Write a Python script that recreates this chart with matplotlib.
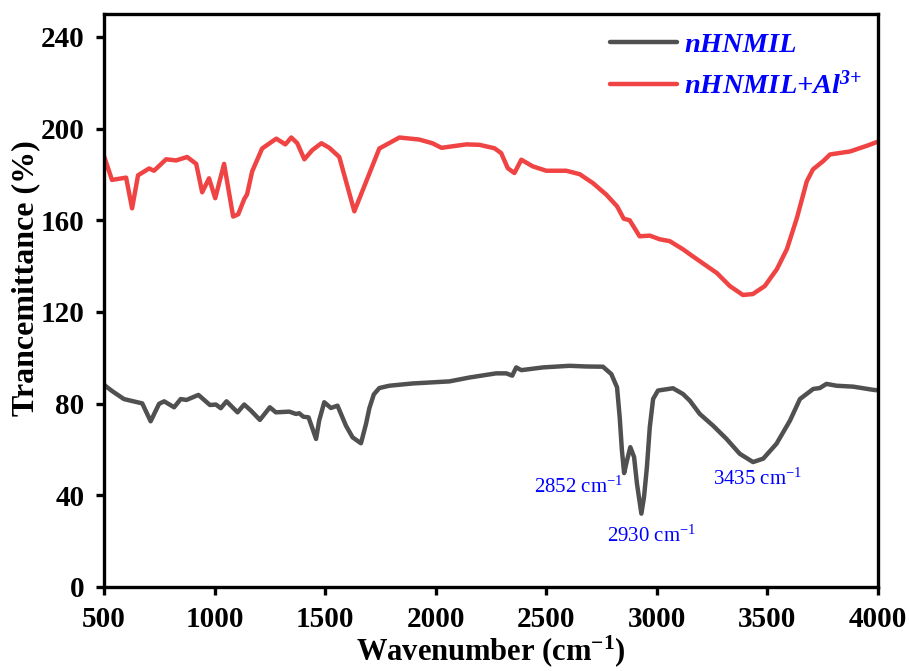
import matplotlib
matplotlib.use("Agg")
import matplotlib.pyplot as plt

# -----------------------------
# FTIR spectra
# -----------------------------
black_w = [500, 505, 538, 590, 620, 673, 711, 749, 772, 817, 847, 873, 927, 979,
           1006, 1028, 1054, 1104, 1134, 1164, 1205, 1250, 1277, 1338, 1368, 1383,
           1401, 1425, 1459, 1473, 1496, 1526, 1556, 1594, 1624, 1662, 1685, 1700,
           1720, 1745, 1790, 1896, 2062, 2153, 2273, 2319, 2346, 2364, 2387, 2485,
           2605, 2681, 2756, 2794, 2820, 2832, 2842, 2852, 2865, 2880, 2897, 2910,
           2930, 2942, 2955, 2968, 2983, 3005, 3073, 3118, 3149, 3194, 3254, 3315,
           3375, 3435, 3481, 3541, 3602, 3647, 3677, 3707, 3737, 3767, 3813, 3888,
           3979, 4000]
black_T = [88.5, 87.8, 85.4, 82.0, 81.3, 80.1, 72.3, 79.9, 81.0, 78.4, 82.0, 81.6,
           83.8, 79.4, 79.6, 78.0, 81.0, 76.2, 79.6, 77.0, 72.9, 78.4, 76.2, 76.5,
           75.5, 75.8, 74.3, 74.0, 64.6, 72.6, 80.6, 78.1, 79.1, 70.4, 65.3, 62.7,
           71.2, 78.0, 84.0, 86.8, 87.8, 88.8, 89.7, 91.4, 93.2, 93.2, 92.2, 95.8,
           94.6, 95.8, 96.5, 96.2, 96.1, 92.9, 87.1, 74.0, 59.6, 49.7, 55.2, 61.0,
           56.7, 45.1, 32.0, 39.3, 52.3, 69.7, 82.0, 85.7, 86.7, 84.2, 81.3, 75.5,
           70.4, 64.6, 58.1, 54.5, 56.0, 62.5, 72.6, 82.0, 84.2, 86.4, 86.8, 88.6,
           87.8, 87.4, 86.0, 85.8]

red_w = [500, 505, 536, 600, 627, 654, 704, 726, 781, 826, 876, 917, 944, 975,
         1003, 1043, 1084, 1107, 1134, 1147, 1170, 1215, 1279, 1320, 1347, 1374,
         1406, 1442, 1483, 1519, 1564, 1632, 1686, 1745, 1836, 1926, 1985, 2026,
         2139, 2198, 2266, 2296, 2326, 2356, 2387, 2439, 2500, 2590, 2651, 2711,
         2771, 2820, 2850, 2877, 2922, 2968, 3013, 3058, 3117, 3162, 3226, 3271,
         3330, 3389, 3434, 3488, 3543, 3588, 3633, 3678, 3706, 3751, 3783, 3873,
         3950, 4000]
red_T = [188.0, 186.6, 177.6, 178.6, 165.2, 179.6, 182.6, 181.6, 186.6, 186.1,
         187.6, 184.6, 172.2, 178.3, 169.6, 184.6, 161.6, 162.6, 169.2, 171.3,
         181.3, 191.3, 195.6, 193.1, 196.1, 193.6, 186.6, 190.6, 193.6, 191.6,
         187.6, 163.9, 177.0, 191.3, 196.1, 195.2, 193.6, 191.6, 193.1, 192.9,
         191.4, 189.3, 182.7, 180.6, 186.4, 183.5, 181.6, 181.6, 180.1, 176.2,
         171.2, 166.1, 160.7, 160.0, 153.0, 153.3, 151.7, 150.9, 147.4, 144.3,
         140.0, 137.0, 131.3, 127.4, 127.8, 131.3, 138.7, 147.4, 160.9, 177.0,
         182.2, 185.7, 188.7, 190.0, 192.5, 194.3]

series_labels = ["nHNMIL", "nHNMIL+Al$^{3{+}}$"]

# peak labels: (text, x, y)
peak_labels = [("2852 cm$^{-1}$", 2645, 43.5),
               ("2930 cm$^{-1}$", 2975, 22.0),
               ("3435 cm$^{-1}$", 3455, 47.0)]

x_ticks = [500, 1000, 1500, 2000, 2500, 3000, 3500, 4000]
y_ticks = [0, 40, 80, 120, 160, 200, 240]

# -----------------------------
# Style
# -----------------------------
plt.rcParams["font.family"] = ["Liberation Serif", "DejaVu Serif"]
plt.rcParams["mathtext.default"] = "regular"

fig = plt.figure(figsize=(9.09, 6.71), dpi=100)
ax = fig.add_axes([0.1144, 0.1252, 0.8515, 0.8540])

ax.plot(black_w, black_T, color="#505050", lw=3.2, solid_joinstyle="round",
        solid_capstyle="round", label=series_labels[0])
ax.plot(red_w, red_T, color="#F04444", lw=3.2, solid_joinstyle="round",
        solid_capstyle="round", label=series_labels[1])

for txt, x, y in peak_labels:
    ax.text(x, y, txt, color="blue", fontsize=15, ha="center", va="center")

ax.set_xlim(500, 4000)
ax.set_ylim(0, 250)
ax.set_xticks(x_ticks)
ax.set_yticks(y_ticks)

for sp in ax.spines.values():
    sp.set_linewidth(2.4)
ax.tick_params(axis="both", direction="out", length=6, width=2.4,
               labelsize=21, pad=8)
for lab in ax.get_xticklabels() + ax.get_yticklabels():
    lab.set_fontweight("bold")

ax.set_xlabel("Wavenumber (cm$^{-1}$)", fontsize=22, fontweight="bold", labelpad=0)
ax.set_ylabel("Trancemittance (%)", fontsize=23, fontweight="bold")
ax.yaxis.set_label_coords(-0.083, 0.539)

leg = ax.legend(loc="upper left", bbox_to_anchor=(610 / 909, 1 - 32 / 671),
                bbox_transform=fig.transFigure, frameon=False, borderpad=0,
                borderaxespad=0, handlelength=2.35, handletextpad=0.25,
                labelspacing=0.48,
                prop={"size": 20.5, "weight": "bold", "style": "italic"})
for t in leg.get_texts():
    t.set_color("blue")

fig.savefig("out.png", dpi=100)
